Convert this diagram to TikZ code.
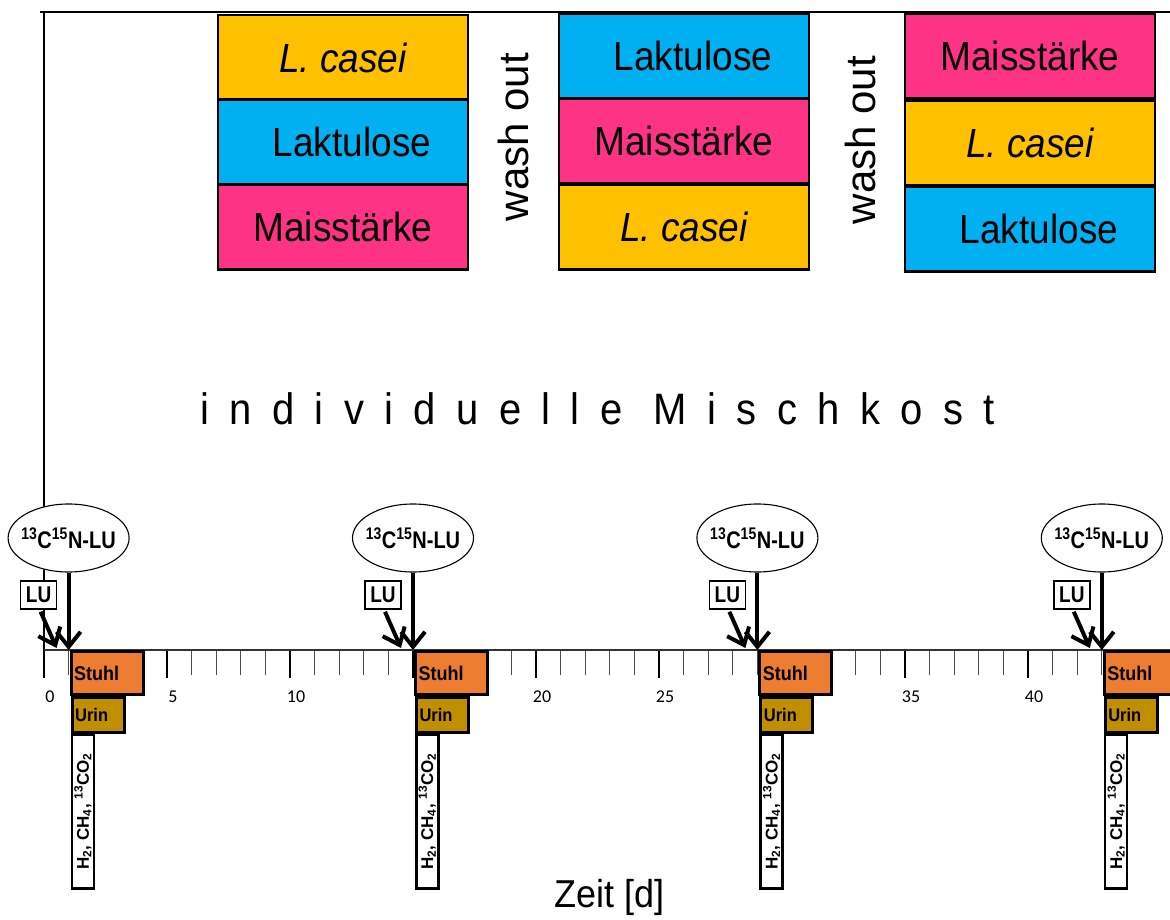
\documentclass[tikz,border=0pt]{standalone}
\usepackage{graphicx}
\usepackage{fontspec}
\setmainfont{Liberation Sans}[BoldFont={Liberation Sans Bold}, ItalicFont={Liberation Sans Italic}, BoldItalicFont={Liberation Sans Bold Italic}]
\newfontfamily\calib{Carlito}
\usetikzlibrary{shapes.geometric,arrows.meta,calc}
\definecolor{cyel}{RGB}{255,192,0}
\definecolor{cblue}{RGB}{0,176,240}
\definecolor{cpink}{RGB}{255,51,133}
\definecolor{corange}{RGB}{237,125,49}
\definecolor{cgold}{RGB}{191,143,0}
\newcommand\vst[2]{\scalebox{1}[#1]{#2}}
\tikzset{
  prod/.style={draw=black, line width=2.2pt, minimum width=250, minimum height=85, inner sep=0pt, font=\fontsize{37}{40}\selectfont},
  wash/.style={rotate=90, font=\fontsize{42}{44}\selectfont, inner sep=0pt},
  ell/.style={ellipse, draw, line width=1.1pt, minimum width=121, minimum height=68, inner xsep=-14pt, inner ysep=0pt, font=\fontsize{20}{22}\selectfont\bfseries, fill=white},
  lubox/.style={draw, line width=1.5pt, minimum width=36, minimum height=28, inner sep=0pt, font=\fontsize{19}{21}\selectfont\bfseries, fill=white},
  bigarr/.style={line width=4pt, -{Straight Barb[length=15pt,width=24pt]}},
  stuhl/.style={draw, line width=3pt, fill=corange, text width=66, inner sep=3pt, minimum height=43, align=left, font=\fontsize{18}{20}\selectfont\bfseries},
  urin/.style={draw, line width=3pt, fill=cgold, text width=46, inner sep=3pt, minimum height=35, align=left, font=\fontsize{16.5}{18}\selectfont\bfseries},
  gas/.style={draw, line width=2.5pt, fill=white, rotate=90, minimum width=154, minimum height=22, inner sep=0pt, font=\fontsize{17}{18}\selectfont\bfseries},
  major/.style={line width=2.5pt},
  minor/.style={line width=1pt, black!70},
  ticklab/.style={font=\calib\fontsize{18}{20}\selectfont, inner sep=0pt}
}
\begin{document}
\begin{tikzpicture}[x=1pt,y=-1pt]
\useasboundingbox (0,0) rectangle (1170,920);
% frame lines
\coordinate (tl) at (40,12);
\coordinate (tr) at (1170,12);
\coordinate (o) at (44,650);
\coordinate (ae) at (1170,650);
\draw[line width=2pt] (tl) -- (tr);
\draw[line width=1.5pt] (o |- tl) -- (o);
% ticks
\foreach \k in {0,...,45}{
  \pgfmathtruncatemacro\m{mod(\k,5)}
  \ifnum\m=0
    \draw[major] (44+24.6*\k,650) -- ++(0,28);
  \else
    \draw[minor] (44+24.6*\k,650) -- ++(0,25);
  \fi
}
\draw[line width=1.5pt, black!80] (o) -- (ae);
\foreach \v in {0,5,10,20,25,35,40}
  \node[ticklab] (lab\v) at (50+24.6*\v,697) {\v};
% product boxes
\node[prod, fill=cyel]   (a1) at (343,57.5) {\vst{1.1}{\itshape L. casei}};
\node[prod, fill=cblue]  (a2) at (343,142)  {\hspace{18pt}\vst{1.1}{Laktulose}};
\node[prod, fill=cpink]  (a3) at (343,227)  {\vst{1.1}{Maisstärke}};
\node[prod, fill=cblue]  (b1) at (684,56)   {\hspace{18pt}\vst{1.1}{Laktulose}};
\node[prod, fill=cpink]  (b2) at (684,141)  {\vst{1.1}{Maisstärke}};
\node[prod, fill=cyel]   (b3) at (684,227)  {\vst{1.1}{\itshape L. casei}};
\node[prod, fill=cpink]  (c1) at (1030,56)  {\vst{1.1}{Maisstärke}};
\node[prod, fill=cyel]   (c2) at (1030,143) {\vst{1.1}{\itshape L. casei}};
\node[prod, fill=cblue]  (c3) at (1030,229) {\hspace{18pt}\vst{1.1}{Laktulose}};
\node[wash] (w1) at (513,137) {wash out};
\node[wash] (w2) at (860,140) {wash out};
\node[anchor=base west, inner sep=0pt, font=\fontsize{40}{42}\selectfont\addfontfeatures{LetterSpace=51}] (mk) at (200,424) {\vst{1.1}{individuelle Mischkost}};
\node[font=\fontsize{36}{38}\selectfont, inner sep=0pt] (zeit) at (610,897) {\vst{1.08}{Zeit [d]}};
% events
\foreach \d [count=\i] in {1,15,29,43}{
  \pgfmathsetmacro\X{44+24.6*\d}
  \coordinate (t\i) at (\X,650);
  \coordinate (l\i) at (\X-12,648);
  \node[ell] (e\i) at (\X,538) {\vst{1.2}{\textsuperscript{13}C\textsuperscript{15}N-LU}};
  \node[lubox] (lu\i) at (\X-30,595) {\vst{1.2}{LU}};
  \draw[bigarr] (e\i.south -| t\i) -- (t\i);
  \draw[bigarr] ($(lu\i.south)+(2,2)$) -- (l\i);
  \node[stuhl, anchor=north west] (s\i) at (\X+1,650) {\vst{1.1}{Stuhl}};
  \node[urin, anchor=north west] (u\i) at (\X+2,696) {\vst{1.1}{Urin}};
  \node[gas, anchor=north east] (g\i) at (\X+2,733) {H\textsubscript{2}, CH\textsubscript{4}, \textsuperscript{13}CO\textsubscript{2}};
}
\end{tikzpicture}
\end{document}
